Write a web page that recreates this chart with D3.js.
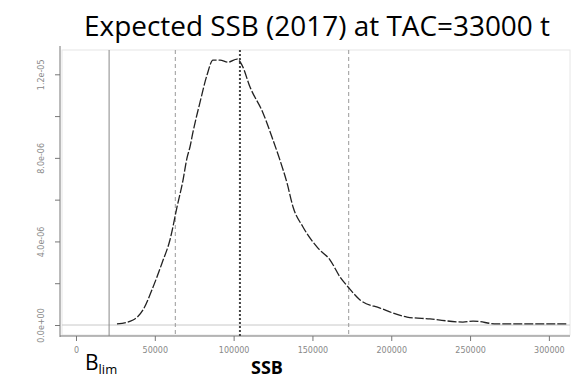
<!DOCTYPE html>
<html>
<head>
<meta charset="utf-8">
<script src="https://cdn.jsdelivr.net/npm/d3@7"></script>
<style>
  body { margin: 0; background: #fff; }
  svg { display: block; }
</style>
</head>
<body>
<svg id="chart" width="574" height="379"></svg>
<script>
// density of SSB (x in t, y in 1e-6)
var ssb = [26000, 36200, 42500, 48900, 54600, 59600, 64100, 67900, 70400, 72300, 74200, 78700, 83100, 86900,
  91400, 96400, 102200, 105300, 110400, 118700, 125000, 129400, 133900, 137700, 144000, 153500, 161200,
  167500, 172600, 180200, 192900, 210000, 224600, 245500, 251900, 267100, 288100, 312200]
var dens = [0.05, 0.24, 0.72, 1.82, 2.97, 4.07, 5.65, 6.94, 7.99, 8.52, 9.23, 10.67, 11.96, 12.68,
  12.68, 12.58, 12.73, 12.44, 11.39, 10.14, 8.85, 7.89, 6.79, 5.65, 4.69, 3.68, 3.11,
  2.30, 1.82, 1.20, 0.81, 0.38, 0.29, 0.14, 0.19, 0.05, 0.05, 0.05]

var xTicks = [0, 50000, 100000, 150000, 200000, 250000, 300000]
var yTicks = [0, 2e-6, 4e-6, 6e-6, 8e-6, 1e-5, 1.2e-5]
var yLabels = {0: "0.0e+00", 4e-6: "4.0e-06", 8e-6: "8.0e-06", 1.2e-5: "1.2e-05"}

var blim = 21000
var median = 104000
var limits = [63000, 173000]   // dashed percentile lines

var title = "Expected SSB (2017) at TAC=33000 t"

var svg = d3.select("#chart")

var x = d3.scaleLinear().domain([-10150, 313400]).range([60, 570])
var y = d3.scaleLinear().domain([0, 1.2e-5]).range([325, 74.3])

// faint plot box
svg.append("rect")
  .attr("x", 62).attr("y", 50)
  .attr("width", 508).attr("height", 285)
  .attr("fill", "none").attr("stroke", "#e6e6e6").attr("stroke-width", 1)

// zero line
svg.append("line")
  .attr("x1", 62).attr("x2", 570)
  .attr("y1", y(0)).attr("y2", y(0))
  .attr("stroke", "#c8c8c8").attr("stroke-width", 1)

// axes
var xAxis = d3.axisBottom(x).tickValues(xTicks).tickSize(5).tickPadding(6).tickFormat(d3.format("d"))
var gx = svg.append("g").attr("transform", "translate(0,336)").call(xAxis)
gx.select(".domain").attr("d", "M60,0H570").attr("stroke", "#777")
gx.selectAll(".tick line").attr("stroke", "#777")
gx.selectAll("text").attr("fill", "#888").attr("font-family", "DejaVu Sans").attr("font-size", 8)

var yAxis = d3.axisLeft(y).tickValues(yTicks).tickSize(5).tickFormat(d => yLabels[d] || "")
var gy = svg.append("g").attr("transform", "translate(60,0)").call(yAxis)
gy.select(".domain").attr("d", "M0,46V337").attr("stroke", "#777")
gy.selectAll(".tick line").attr("stroke", "#777")
gy.selectAll("text")
  .attr("fill", "#888").attr("font-family", "DejaVu Sans").attr("font-size", 8)
  .attr("text-anchor", "middle").attr("x", null).attr("dy", null)
  .attr("transform", "translate(-16,0) rotate(-90)")

// vertical reference lines
svg.append("line")
  .attr("x1", x(blim)).attr("x2", x(blim))
  .attr("y1", 50).attr("y2", 336)
  .attr("stroke", "#888").attr("stroke-width", 1)

svg.selectAll(".lim").data(limits).join("line")
  .attr("class", "lim")
  .attr("x1", d => x(d)).attr("x2", d => x(d))
  .attr("y1", 50).attr("y2", 336)
  .attr("stroke", "#999").attr("stroke-width", 1)
  .attr("stroke-dasharray", "4,3")

svg.append("line")
  .attr("x1", x(median)).attr("x2", x(median))
  .attr("y1", 50).attr("y2", 336)
  .attr("stroke", "#444").attr("stroke-width", 2)
  .attr("stroke-dasharray", "2,2")

// density curve
var line = d3.line()
  .x((d, i) => x(ssb[i]))
  .y(d => y(d * 1e-6))
  .curve(d3.curveMonotoneX)

svg.append("path")
  .attr("d", line(dens))
  .attr("fill", "none")
  .attr("stroke", "#222").attr("stroke-width", 1.3)
  .attr("stroke-dasharray", "9,2")

// title
svg.append("text")
  .attr("x", 84).attr("y", 36)
  .attr("font-family", "Open Sans").attr("font-size", 26.5)
  .attr("textLength", 466).attr("lengthAdjust", "spacingAndGlyphs")
  .attr("fill", "#000")
  .text(title)

// Blim label
var bl = svg.append("text")
  .attr("x", 85).attr("y", 370)
  .attr("font-family", "Open Sans").attr("font-size", 21)
bl.append("tspan").text("B")
bl.append("tspan").attr("font-size", 13).attr("dy", 4).text("lim")

svg.append("text")
  .attr("x", 267).attr("y", 374)
  .attr("text-anchor", "middle")
  .attr("font-family", "Open Sans").attr("font-weight", "bold").attr("font-size", 18)
  .text("SSB")
</script>
</body>
</html>
